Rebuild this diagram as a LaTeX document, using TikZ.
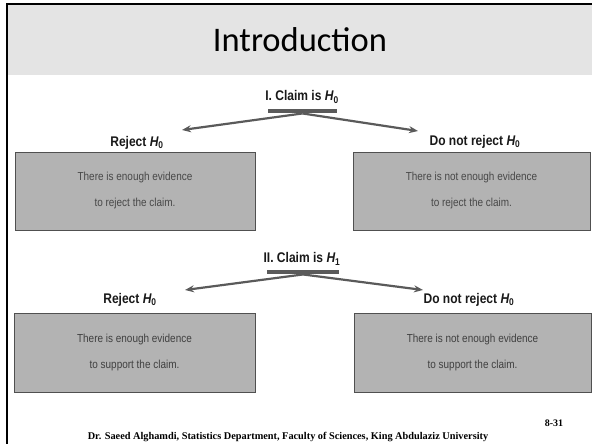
\documentclass[tikz,border=0pt]{standalone}
\usepackage{fontspec}
\setmainfont{Liberation Sans}
\newfontfamily\titlefont{Carlito}
\newfontfamily\footfont{Liberation Serif}
\newfontfamily\narrowfont[FakeStretch=0.86]{Liberation Sans}
\usetikzlibrary{arrows.meta}
\definecolor{band}{HTML}{E4E4E4}
\definecolor{boxfill}{HTML}{B3B3B3}
\definecolor{boxline}{HTML}{505050}
\definecolor{arrowgray}{HTML}{5A5A5A}
\definecolor{txtA}{HTML}{484848}
\definecolor{txtB}{HTML}{404040}
\tikzset{
  gbox/.style={fill=boxfill, draw=boxline, line width=0.9pt, inner sep=0pt, align=center,
    font=\narrowfont\fontsize{11.6}{26}\selectfont},
  lab/.style={font=\narrowfont\bfseries\fontsize{14}{16}\selectfont, inner sep=0pt, text=black!90},
  hbar/.style={fill=arrowgray, draw=none, inner sep=0pt, minimum height=4.5pt},
  branch/.style={draw=arrowgray, line width=2.2pt, -{Stealth[length=9pt,width=7pt]}}
}
\newcommand{\Hsub}[1]{{\itshape H}\textsubscript{#1}}
\begin{document}
\begin{tikzpicture}[x=1pt,y=-1pt]
\useasboundingbox (0,0) rectangle (592,444);
% slide frame and title band
\fill[band] (8,5) rectangle (592,75);
\draw[black, line width=2pt] (7,444) -- (7,4) -- (592,4);
\node[font=\titlefont\fontsize{34.5}{40}\selectfont, anchor=base] (title) at (300,52) {Introduction};

% ---- I. Claim is H0
\node[lab] (claim1) at (302,97) {I. Claim is \Hsub{0}};
\node[hbar, minimum width=69pt] (bar1) at (302.5,111) {};
\coordinate (t1L) at (182,130);
\coordinate (t1R) at (418,131);
\draw[branch] (bar1.south) -- (t1L);
\draw[branch] (bar1.south) -- (t1R);
\node[lab] (rej1) at (137,143) {Reject \Hsub{0}};
\node[lab] (nrej1) at (475,142) {Do not reject \Hsub{0}};
\node[gbox, minimum width=240pt, minimum height=78pt, text=txtA] (b1L) at (135,191)
  {There is enough evidence\\to reject the claim.};
\node[gbox, minimum width=237pt, minimum height=78pt, text=txtA] (b1R) at (471.5,191)
  {There is not enough evidence\\to reject the claim.};

% ---- II. Claim is H1
\node[lab] (claim2) at (302,259) {II. Claim is \Hsub{1}};
\node[hbar, minimum width=72pt] (bar2) at (303,272) {};
\coordinate (t2L) at (185,290);
\coordinate (t2R) at (423,290);
\draw[branch] (bar2.south) -- (t2L);
\draw[branch] (bar2.south) -- (t2R);
\node[lab] (rej2) at (130,300) {Reject \Hsub{0}};
\node[lab] (nrej2) at (469,300) {Do not reject \Hsub{0}};
\node[gbox, minimum width=241pt, minimum height=79pt, text=txtB] (b2L) at (134.5,352.5)
  {There is enough evidence\\to support the claim.};
\node[gbox, minimum width=237pt, minimum height=79pt, text=txtB] (b2R) at (472.5,352.5)
  {There is not enough evidence\\to support the claim.};

% ---- footer
\node[font=\footfont\bfseries\fontsize{10}{11}\selectfont, inner sep=0pt] (page) at (554,423) {8-31};
\node[font=\footfont\bfseries\fontsize{10.3}{11}\selectfont, inner sep=0pt] (foot) at (288,437)
  {Dr. Saeed Alghamdi, Statistics Department, Faculty of Sciences, King Abdulaziz University};
\end{tikzpicture}
\end{document}
